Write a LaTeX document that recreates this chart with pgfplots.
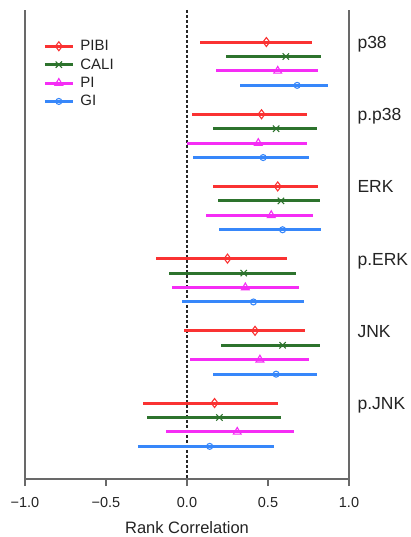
\documentclass[border=0pt]{standalone}
\usepackage{fontspec}
\setmainfont{Liberation Sans}
\usepackage{pgfplots}
\usepackage{pgfplotstable}
\pgfplotsset{compat=1.18}
\definecolor{pibi}{RGB}{250,50,50}
\definecolor{cali}{RGB}{45,115,45}
\definecolor{pic}{RGB}{245,45,245}
\definecolor{gic}{RGB}{55,135,250}
\definecolor{axisgray}{RGB}{105,105,105}
\definecolor{txt}{RGB}{35,35,35}

\pgfplotstableread{
y l m h
0 0.08 0.49 0.77
-5 0.03 0.46 0.74
-10 0.16 0.56 0.81
-15 -0.19 0.25 0.62
-20 -0.02 0.42 0.73
-25 -0.27 0.17 0.56
}\pibitab
\pgfplotstableread{
y l m h
-1 0.24 0.61 0.83
-6 0.16 0.55 0.80
-11 0.19 0.58 0.82
-16 -0.11 0.35 0.67
-21 0.21 0.59 0.82
-26 -0.25 0.20 0.58
}\calitab
\pgfplotstableread{
y l m h
-2 0.18 0.56 0.81
-7 0.00 0.44 0.74
-12 0.12 0.52 0.78
-17 -0.09 0.36 0.69
-22 0.02 0.45 0.75
-27 -0.13 0.31 0.66
}\pitab
\pgfplotstableread{
y l m h
-3 0.33 0.68 0.87
-8 0.04 0.47 0.75
-13 0.20 0.59 0.83
-18 -0.03 0.41 0.72
-23 0.16 0.55 0.80
-28 -0.30 0.14 0.54
}\gitab

\begin{document}
\begin{tikzpicture}
\begin{axis}[
  scale only axis, width=324pt, height=469pt,
  xmin=-1, xmax=1, ymin=-30.26, ymax=2.22,
  axis x line=bottom, axis y line=box,
  axis line style={-, draw=axisgray, line width=1.3pt},
  xtick={-1,-0.5,0,0.5,1},
  xticklabels={−1.0,−0.5,0.0,0.5,1.0},
  tick align=outside, major tick length=7pt,
  xtick style={draw=axisgray, line width=1.3pt},
  xticklabel style={font=\fontsize{14.5}{16}\selectfont, text=txt, yshift=-8pt},
  ytick={0,-5,-10,-15,-20,-25},
  yticklabels={p38,p.p38,ERK,p.ERK,JNK,p.JNK},
  yticklabel pos=right,
  ytick style={draw=none},
  yticklabel style={anchor=base west, yshift=-6.5pt, xshift=-2pt, font=\fontsize{17.5}{20}\selectfont, text=txt},
  xlabel={Rank Correlation},
  xlabel style={font=\fontsize{16.5}{19}\selectfont, text=txt, yshift=-7pt},
  clip=false,
  legend style={draw=none, fill=none, at={(0.056,0.94)}, anchor=north west,
    inner sep=0pt, font=\fontsize{15}{18}\selectfont, text=txt, row sep=2.5pt,
    /tikz/every odd column/.append style={column sep=4pt}},
  legend cell align=left,
  legend image code/.code={\draw[mark repeat=2,mark phase=2,#1] plot coordinates {(0pt,0pt)(14pt,0pt)(28pt,0pt)};},
  err/.style={only marks, forget plot,
    error bars/.cd, x dir=both, x explicit, error mark=none,
    error bar style={line width=3pt}},
]
\addlegendimage{pibi, line width=3pt, mark=diamond, mark size=4.5pt, mark options={solid, fill=white, line width=1.1pt}}
\addlegendentry{PIBI}
\addlegendimage{cali, line width=3pt, mark=x, mark size=4.5pt, mark options={solid, line width=1.1pt}}
\addlegendentry{CALI}
\addlegendimage{pic, line width=3pt, mark=triangle, mark size=4.5pt, mark options={solid, fill=white, line width=1.1pt}}
\addlegendentry{PI}
\addlegendimage{gic, line width=3pt, mark=o, mark size=3pt, mark options={solid, fill=white, line width=1.1pt}}
\addlegendentry{GI}

\addplot[black!85, line width=1.2pt, dash pattern=on 3pt off 2pt, forget plot] coordinates {(0,2.22) (0,-30.26)};

\addplot[pibi, mark=diamond, mark size=4.5pt, mark options={fill=white, line width=1.1pt}, err]
  table[x=m, y=y, x error plus expr=\thisrow{h}-\thisrow{m}, x error minus expr=\thisrow{m}-\thisrow{l}] {\pibitab};
\addplot[cali, mark=x, mark size=4.5pt, mark options={line width=1.1pt}, err]
  table[x=m, y=y, x error plus expr=\thisrow{h}-\thisrow{m}, x error minus expr=\thisrow{m}-\thisrow{l}] {\calitab};
\addplot[pic, mark=triangle, mark size=4.5pt, mark options={fill=white, line width=1.1pt}, err]
  table[x=m, y=y, x error plus expr=\thisrow{h}-\thisrow{m}, x error minus expr=\thisrow{m}-\thisrow{l}] {\pitab};
\addplot[gic, mark=o, mark size=3pt, mark options={fill=white, line width=1.1pt}, err]
  table[x=m, y=y, x error plus expr=\thisrow{h}-\thisrow{m}, x error minus expr=\thisrow{m}-\thisrow{l}] {\gitab};
\end{axis}
\pgfresetboundingbox
\path (-25pt,-58pt) rectangle (386pt,479pt);
\end{tikzpicture}
\end{document}
